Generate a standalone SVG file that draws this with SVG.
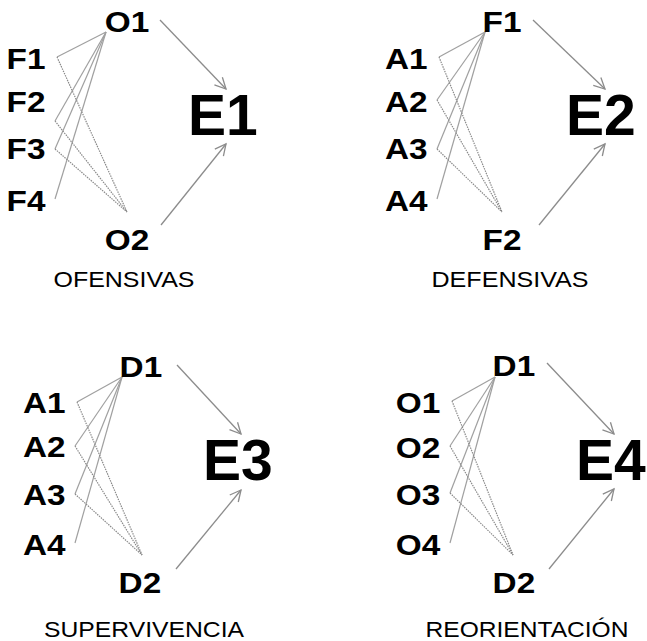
<svg xmlns="http://www.w3.org/2000/svg" width="647" height="641" viewBox="0 0 647 641">
<style>
.lbl{font-family:"Liberation Sans",Arial,sans-serif;font-weight:bold;font-size:29px;fill:#000}
.big{font-family:"Liberation Sans",Arial,sans-serif;font-weight:bold;font-size:57px;fill:#000}
.cat{font-family:"Liberation Sans",Arial,sans-serif;font-size:22.5px;fill:#000;text-anchor:middle}
.s{stroke:#a0a0a0;stroke-width:1.2;fill:none}
.d{stroke:#8a8a8a;stroke-width:1.2;fill:none;stroke-dasharray:1.5 1}
.a{stroke:#8c8c8c;stroke-width:1.3;fill:none;marker-end:url(#ah)}
</style>
<defs>
<marker id="ah" markerUnits="userSpaceOnUse" markerWidth="16" markerHeight="16" refX="12" refY="6" orient="auto" viewBox="0 0 16 12">
<path d="M1,0.5 L12,6 L1,11.5" fill="none" stroke="#8c8c8c" stroke-width="1.3"/>
</marker>
</defs>
<g id="connectors">
<polyline class="s" points="106,32 57,57"/>
<polyline class="s" points="106,32 55,121"/>
<polyline class="s" points="106,32 55,149"/>
<polyline class="s" points="106,32 55,199"/>
<polyline class="d" points="57,57 127,212"/>
<polyline class="d" points="55,121 127,212"/>
<polyline class="d" points="55,149 127,212"/>
<line class="a" x1="160" y1="20" x2="226" y2="89"/>
<line class="a" x1="161" y1="225" x2="226" y2="144"/>
<polyline class="s" points="485,32 439,57"/>
<polyline class="s" points="485,32 437,100"/>
<polyline class="s" points="485,32 437,149"/>
<polyline class="s" points="485,32 437,199"/>
<polyline class="d" points="439,57 502,212"/>
<polyline class="d" points="437,100 502,212"/>
<polyline class="d" points="437,149 502,212"/>
<line class="a" x1="533" y1="20" x2="605" y2="89"/>
<line class="a" x1="539" y1="225" x2="605" y2="144"/>
<polyline class="s" points="122,377 77,402"/>
<polyline class="s" points="122,377 75,446"/>
<polyline class="s" points="122,377 75,494"/>
<polyline class="s" points="122,377 75,543"/>
<polyline class="d" points="77,402 142,555"/>
<polyline class="d" points="75,446 142,555"/>
<polyline class="d" points="75,494 142,555"/>
<line class="a" x1="177" y1="365" x2="241" y2="434"/>
<line class="a" x1="176" y1="569" x2="241" y2="490"/>
<polyline class="s" points="495,377 452,401"/>
<polyline class="s" points="495,377 450,446"/>
<polyline class="s" points="495,377 450,493"/>
<polyline class="s" points="495,377 450,543"/>
<polyline class="d" points="452,401 513,555"/>
<polyline class="d" points="450,446 513,555"/>
<polyline class="d" points="450,493 513,555"/>
<line class="a" x1="547" y1="363" x2="614" y2="434"/>
<line class="a" x1="549" y1="569" x2="614" y2="489"/>
</g>
<g id="p1">
<g id="p1-O1"><text class="lbl" x="104.7" y="32" textLength="44.5" lengthAdjust="spacingAndGlyphs">O1</text></g>
<g id="p1-F1"><text class="lbl" x="6.6" y="69" textLength="38.9" lengthAdjust="spacingAndGlyphs">F1</text></g>
<g id="p1-F2"><text class="lbl" x="6.6" y="112" textLength="38.9" lengthAdjust="spacingAndGlyphs">F2</text></g>
<g id="p1-F3"><text class="lbl" x="6.6" y="159" textLength="38.9" lengthAdjust="spacingAndGlyphs">F3</text></g>
<g id="p1-F4"><text class="lbl" x="6.6" y="211" textLength="38.9" lengthAdjust="spacingAndGlyphs">F4</text></g>
<g id="p1-O2"><text class="lbl" x="104.7" y="250" textLength="44.5" lengthAdjust="spacingAndGlyphs">O2</text></g>
<g id="p1-E1"><text class="big" x="188" y="135">E1</text></g>
<g id="p1-title"><text class="cat" x="124" y="287" textLength="141" lengthAdjust="spacingAndGlyphs">OFENSIVAS</text></g>
</g>
<g id="p2">
<g id="p2-F1"><text class="lbl" x="482.6" y="32" textLength="38.9" lengthAdjust="spacingAndGlyphs">F1</text></g>
<g id="p2-A1"><text class="lbl" x="385" y="69" textLength="42.6" lengthAdjust="spacingAndGlyphs">A1</text></g>
<g id="p2-A2"><text class="lbl" x="385" y="112" textLength="42.6" lengthAdjust="spacingAndGlyphs">A2</text></g>
<g id="p2-A3"><text class="lbl" x="385" y="159" textLength="42.6" lengthAdjust="spacingAndGlyphs">A3</text></g>
<g id="p2-A4"><text class="lbl" x="385" y="211" textLength="42.6" lengthAdjust="spacingAndGlyphs">A4</text></g>
<g id="p2-F2"><text class="lbl" x="482.6" y="250" textLength="38.9" lengthAdjust="spacingAndGlyphs">F2</text></g>
<g id="p2-E2"><text class="big" x="566" y="135">E2</text></g>
<g id="p2-title"><text class="cat" x="510" y="287" textLength="157" lengthAdjust="spacingAndGlyphs">DEFENSIVAS</text></g>
</g>
<g id="p3">
<g id="p3-D1"><text class="lbl" x="119.6" y="377" textLength="42.6" lengthAdjust="spacingAndGlyphs">D1</text></g>
<g id="p3-A1"><text class="lbl" x="23" y="413" textLength="42.6" lengthAdjust="spacingAndGlyphs">A1</text></g>
<g id="p3-A2"><text class="lbl" x="23" y="457" textLength="42.6" lengthAdjust="spacingAndGlyphs">A2</text></g>
<g id="p3-A3"><text class="lbl" x="23" y="505" textLength="42.6" lengthAdjust="spacingAndGlyphs">A3</text></g>
<g id="p3-A4"><text class="lbl" x="23" y="555" textLength="42.6" lengthAdjust="spacingAndGlyphs">A4</text></g>
<g id="p3-D2"><text class="lbl" x="118.6" y="593" textLength="42.6" lengthAdjust="spacingAndGlyphs">D2</text></g>
<g id="p3-E3"><text class="big" x="203" y="480">E3</text></g>
<g id="p3-title"><text class="cat" x="144" y="637" textLength="200" lengthAdjust="spacingAndGlyphs">SUPERVIVENCIA</text></g>
</g>
<g id="p4">
<g id="p4-D1"><text class="lbl" x="492.6" y="376" textLength="42.6" lengthAdjust="spacingAndGlyphs">D1</text></g>
<g id="p4-O1"><text class="lbl" x="395.7" y="413" textLength="44.5" lengthAdjust="spacingAndGlyphs">O1</text></g>
<g id="p4-O2"><text class="lbl" x="395.7" y="458" textLength="44.5" lengthAdjust="spacingAndGlyphs">O2</text></g>
<g id="p4-O3"><text class="lbl" x="395.7" y="505" textLength="44.5" lengthAdjust="spacingAndGlyphs">O3</text></g>
<g id="p4-O4"><text class="lbl" x="395.7" y="555" textLength="44.5" lengthAdjust="spacingAndGlyphs">O4</text></g>
<g id="p4-D2"><text class="lbl" x="492.6" y="593" textLength="42.6" lengthAdjust="spacingAndGlyphs">D2</text></g>
<g id="p4-E4"><text class="big" x="576" y="480">E4</text></g>
<g id="p4-title"><text class="cat" x="527" y="637" textLength="203" lengthAdjust="spacingAndGlyphs">REORIENTACIÓN</text></g>
</g>
</svg>
